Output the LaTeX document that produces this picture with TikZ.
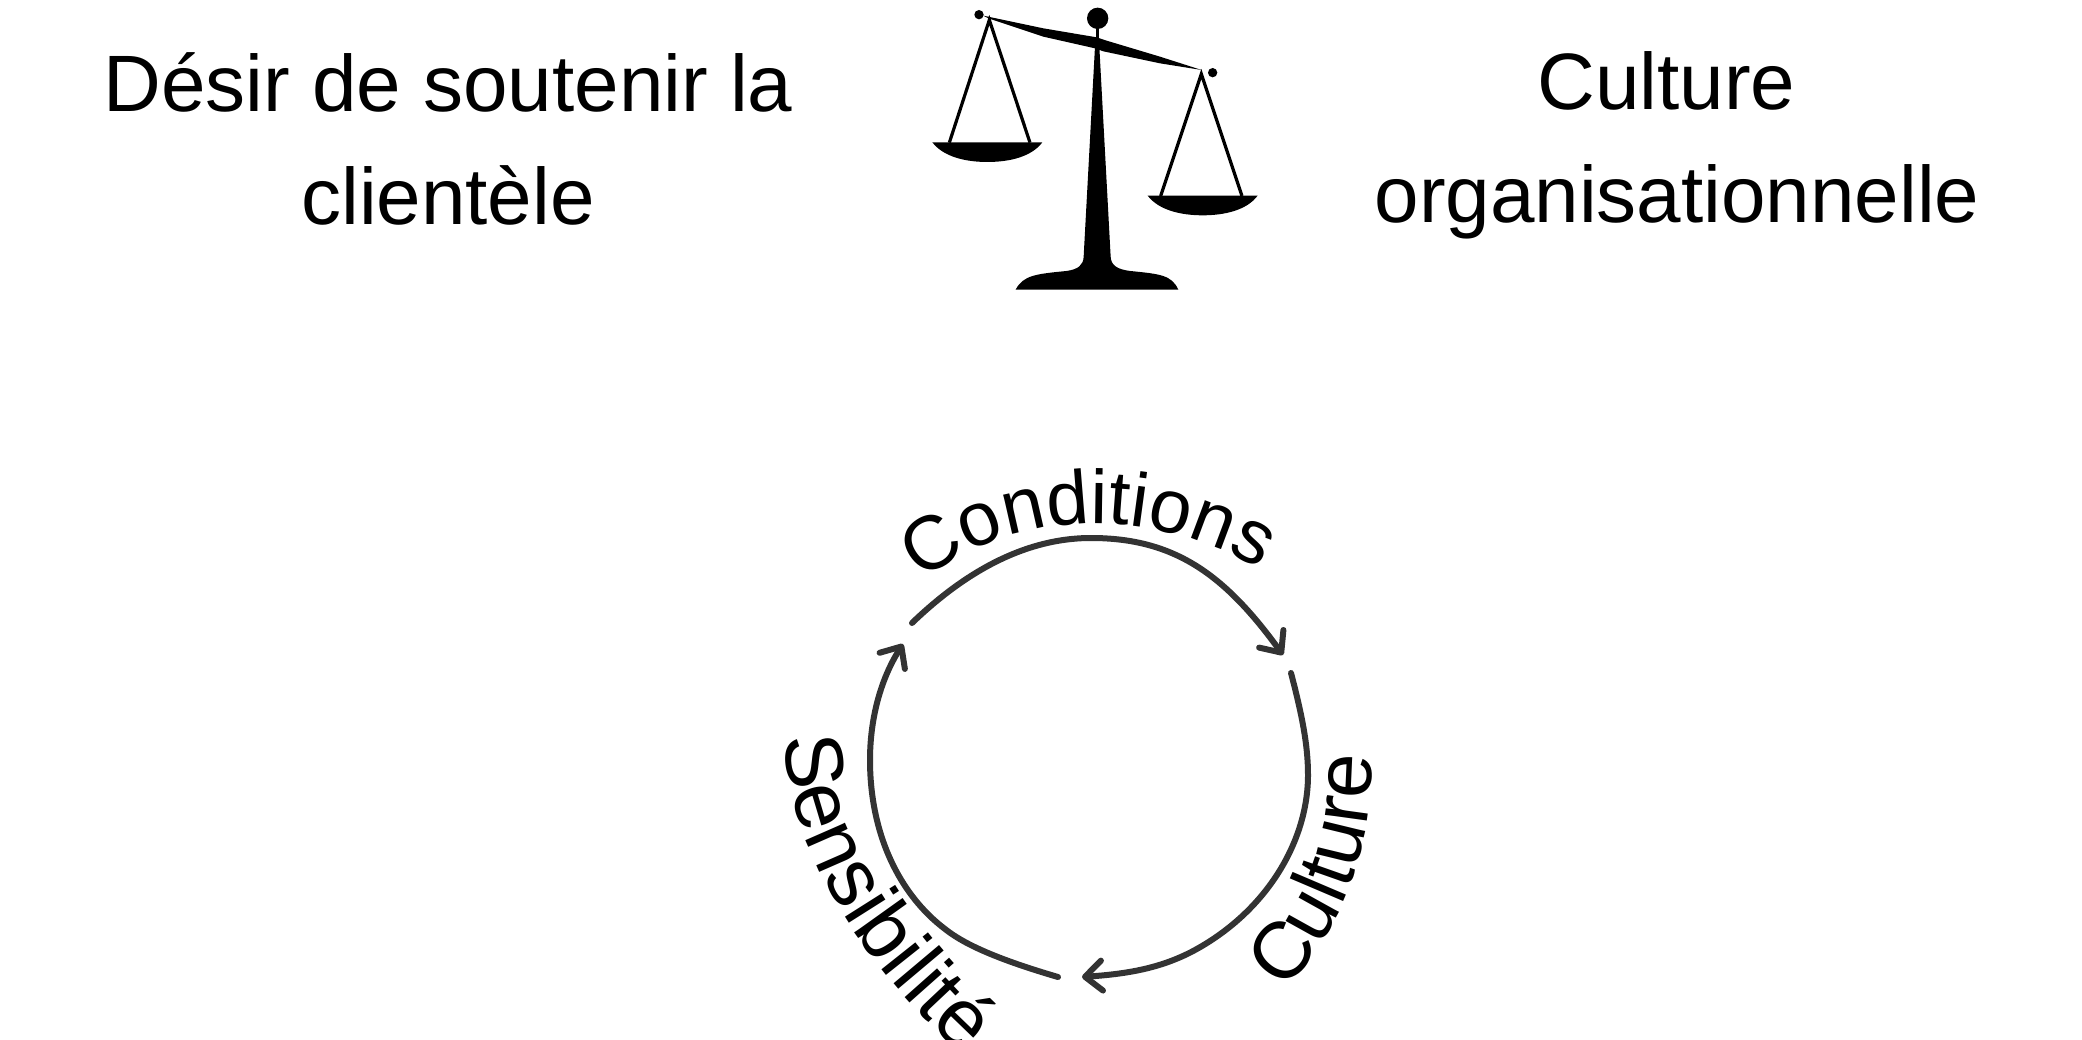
\documentclass[tikz,border=0pt]{standalone}
\usepackage{fontspec}
\setmainfont{Liberation Sans}
\usetikzlibrary{arrows.meta,decorations.text}
\newcommand{\curvefont}{\fontsize{80}{90}\selectfont}
\newcommand{\condfont}{\fontsize{76}{90}\selectfont}
\newcommand{\sensfont}{\fontsize{82}{90}\selectfont}
\tikzset{
  headline/.style={font=\fontsize{80}{113}\selectfont,align=center,text=black},
  cycleline/.style={draw=black!80,line width=6pt,line cap=round,line join=round,
    -{Straight Barb[length=17pt,width=30pt,line width=6pt,round]}},
  scaleline/.style={draw=black,line width=3.2pt},
  curved/.style={decorate,decoration={text along path,raise=0pt,text={#1}}}
}
\begin{document}
\begin{tikzpicture}[x=1pt,y=-1pt]
\useasboundingbox (0,0) rectangle (2082,1040);
% headings
\node[headline] (desir) at (448,139) {Désir de soutenir la\\clientèle};
\node[headline] (culture) at (1677,145) {Culture\hspace*{21pt}\\organisationnelle};
% balance
\begin{scope}[shift={(900,0)},x=0.3333pt,y=-0.3333pt]
  \fill (593,55) circle[radius=32];
  \fill (237,44) circle[radius=14];
  \fill (938,218) circle[radius=14];
  \fill (588,85) rectangle (597,120);
  \fill (250,47) -- (430,85) -- (590,112) -- (620,122) -- (780,170) -- (905,210)
    -- (780,190) -- (610,154) -- (585,145) -- (430,110) -- (265,55) -- cycle;
  \fill (585,140) -- (598,140) -- (632,770)
    .. controls (633,795) and (650,808) .. (690,813)
    .. controls (780,822) and (815,825) .. (835,869) -- (347,869)
    .. controls (370,825) and (410,822) .. (500,813)
    .. controls (535,808) and (550,795) .. (551,770) -- cycle;
  \fill (97,427) -- (427,427) .. controls (395,470) and (330,486) .. (262,486)
    .. controls (195,486) and (130,470) .. cycle;
  \fill (743,587) -- (1073,587) .. controls (1041,630) and (976,646) .. (908,646)
    .. controls (841,646) and (776,630) .. cycle;
  \draw[scaleline,line join=miter] (148,428) -- (268,60) -- (390,428);
  \draw[scaleline,line join=miter] (782,588) -- (904,222) -- (1026,588);
\end{scope}
% cycle
\coordinate (c1s) at (912,623);
\coordinate (c1e) at (1283,655);
\coordinate (c2s) at (1291,673);
\coordinate (c2e) at (1082,977);
\coordinate (c3s) at (1058,977);
\coordinate (c3e) at (903,644);
\draw[cycleline] (c1s) .. controls (965,572) and (1025,538) .. (1091,538)
  .. controls (1175,538) and (1225,575) .. (c1e);
\draw[cycleline] (c2s) .. controls (1302,715) and (1308,745) .. (1308,775)
  .. controls (1308,840) and (1268,910) .. (1195,950)
  .. controls (1160,969) and (1125,974) .. (c2e);
\draw[cycleline] (c3s) .. controls (1000,960) and (965,945) .. (945,929)
  .. controls (900,895) and (870,835) .. (870,760)
  .. controls (870,720) and (880,680) .. (c3e);
% curved labels
\path[curved={|\condfont|Conditions}] (922,582) .. controls (1025,497) and (1195,507) .. (1300,600);
\path[curved={|\curvefont|Culture}] (1283,990) .. controls (1335,940) and (1373,860) .. (1372,755) -- (1372,680);
\path[curved={|\sensfont|Sensibilité}] (785,737) .. controls (785,840) and (860,970) .. (985,1075) -- (1020,1115);
\end{tikzpicture}
\end{document}
